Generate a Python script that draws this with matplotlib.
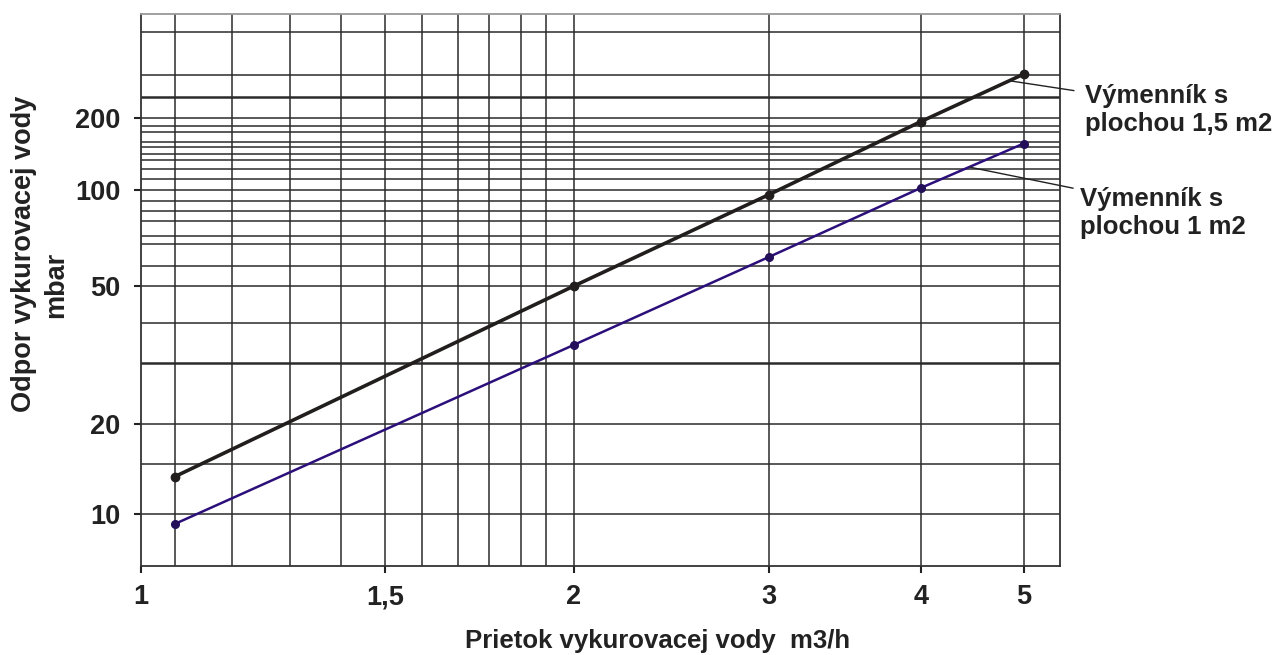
import numpy as np
import matplotlib
matplotlib.use("Agg")
import matplotlib.pyplot as plt

# data
flow = [1.058, 2, 3, 4, 5]
drop_15 = [13.3, 50, 97, 194, 306]     # Výmenník s plochou 1,5 m2
drop_10 = [9.23, 33.8, 61.7, 102.5, 157]  # Výmenník s plochou 1 m2

x_ticks = [1, 1.5, 2, 3, 4, 5]
x_ticklabels = ["1", "1,5", "2", "3", "4", "5"]
y_ticks = [10, 20, 50, 100, 200]
y_ticklabels = ["10", "20", "50", "100", "200"]

x_grid = [1.058, 1.164, 1.28, 1.394, 1.5, 1.587, 1.677, 1.757, 1.844, 1.918, 2, 3, 4, 5]
y_grid = [10, 14.6, 20, 30, 39.2, 50, 57.7, 67.7, 72.1, 80.2, 86.2, 92.7, 100,
          111.5, 122.4, 133.5, 141.8, 151.7, 159.7, 175.8, 186.3, 200, 246, 302, 460]
y_grid_bold = [30, 246]

# the printed chart is not a clean log scale, so calibrate it piecewise
x_cal_val = [1, 1.5, 2, 3, 4, 5]
x_cal_pos = [0, 0.2657, 0.4712, 0.6833, 0.8488, 0.9606]
y_cal_val = [10, 20, 50, 100, 200]
y_cal_pos = [0.0949, 0.2577, 0.5074, 0.6806, 0.8113]


def make_funcs(vals, pos):
    lv = np.log(np.asarray(vals, float))
    p = np.asarray(pos, float)
    s0 = (p[1] - p[0]) / (lv[1] - lv[0])
    s1 = (p[-1] - p[-2]) / (lv[-1] - lv[-2])

    def fwd(v):
        l = np.log(np.clip(np.asarray(v, float), 1e-12, None))
        out = np.interp(l, lv, p)
        out = np.where(l < lv[0], p[0] + (l - lv[0]) * s0, out)
        out = np.where(l > lv[-1], p[-1] + (l - lv[-1]) * s1, out)
        return out

    def inv(q):
        q = np.asarray(q, float)
        l = np.interp(q, p, lv)
        l = np.where(q < p[0], lv[0] + (q - p[0]) / s0, l)
        l = np.where(q > p[-1], lv[-1] + (q - p[-1]) / s1, l)
        return np.exp(l)

    return fwd, inv


plt.rcParams['font.family'] = ['Liberation Sans', 'DejaVu Sans']
plt.rcParams['font.weight'] = 'bold'

txt_c = '#222222'
fig = plt.figure(figsize=(12.78, 6.55), dpi=100)
ax = fig.add_axes([0.1103, 0.1359, 0.7191, 0.8423])

ax.set_xscale('function', functions=make_funcs(x_cal_val, x_cal_pos))
ax.set_yscale('function', functions=make_funcs(y_cal_val, y_cal_pos))
ax.set_xlim(1, 5.41)
ax.set_ylim(6.67, 544)

grid_c = '#2b2b2b'
for gx in x_grid:
    ax.axvline(gx, color=grid_c, lw=1.1, zorder=1)
for gy in y_grid:
    ax.axhline(gy, color=grid_c, lw=1.8 if gy in y_grid_bold else 1.1, zorder=1)

ax.plot(flow, drop_15, color='#221e1e', lw=2.6, marker='o', ms=6, zorder=3)
ax.plot(flow, drop_10, color='#2c0f7a', lw=1.8, marker='o', ms=5.5,
        mfc='#24105a', mec='#24105a', zorder=3)

ax.set_xticks(x_ticks)
ax.set_xticklabels(x_ticklabels)
ax.set_yticks(y_ticks)
ax.set_yticklabels(y_ticklabels)
ax.minorticks_off()
ax.tick_params(axis='both', direction='out', length=5, width=1.5, color=txt_c,
               labelsize=19.5, labelcolor=txt_c, pad=10)
ax.tick_params(axis='x', pad=8)

for s in ax.spines.values():
    s.set_color('#333333')
    s.set_linewidth(1.3)
ax.spines['top'].set_color('#999999')

ax.set_xlabel('Prietok vykurovacej vody  m3/h', fontsize=18.5, fontweight='bold',
              color=txt_c, va='baseline')
ax.xaxis.set_label_coords(0.5622, -0.148)
ax.set_ylabel('Odpor vykurovacej vody', fontsize=19.5, fontweight='bold',
              color=txt_c, va='center')
ax.yaxis.set_label_coords(-0.1276, 0.566)
ax.text(-0.0922, 0.5087, 'mbar', transform=ax.transAxes, rotation=90,
        ha='center', va='center', fontsize=19.5, fontweight='bold', color=txt_c)

ax.annotate('Výmenník s\nplochou 1,5 m2', xy=(4.85, 287), xycoords='data',
            xytext=(1085, 655 - 84), textcoords='figure pixels',
            ha='left', va='top', fontsize=18.5, color=txt_c, linespacing=1.2,
            annotation_clip=False,
            arrowprops=dict(arrowstyle='-', color=txt_c, lw=1.0,
                            relpos=(0, 0.84), shrinkA=6, shrinkB=0))
ax.annotate('Výmenník s\nplochou 1 m2', xy=(4.45, 125), xycoords='data',
            xytext=(1080, 655 - 187), textcoords='figure pixels',
            ha='left', va='top', fontsize=18.5, color=txt_c, linespacing=1.2,
            annotation_clip=False,
            arrowprops=dict(arrowstyle='-', color=txt_c, lw=1.0,
                            relpos=(0, 0.95), shrinkA=3, shrinkB=0))

fig.savefig('out.png', dpi=100)
